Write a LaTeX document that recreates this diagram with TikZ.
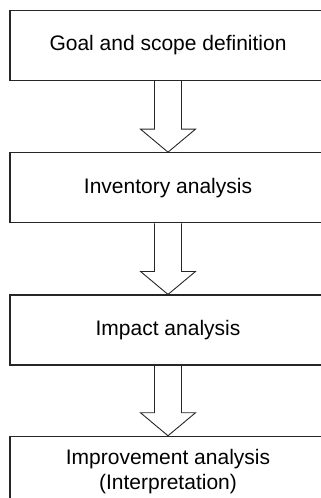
\documentclass[tikz,border=0pt]{standalone}
\usepackage{fontspec}
\setmainfont{Liberation Sans}
\usetikzlibrary{positioning}

\tikzset{
  stage/.style={draw=black!85, line width=1.3pt, minimum width=316pt,
    minimum height=70pt, inner sep=0pt, align=center,
    font=\fontsize{21}{25}\selectfont},
  hollow/.style={draw=black!85, line width=0.9pt, line join=miter}
}

% open block arrow from the bottom of one stage to the top of the next
\newcommand{\hollowarrow}[2]{%
  \draw[hollow] ([xshift=-13.5pt]#1.south)
    -- ([xshift=-13.5pt,yshift=23pt]#2.north)
    -- ([xshift=-27.5pt,yshift=23pt]#2.north)
    -- (#2.north)
    -- ([xshift=27.5pt,yshift=23pt]#2.north)
    -- ([xshift=13.5pt,yshift=23pt]#2.north)
    -- ([xshift=13.5pt]#1.south);}

\begin{document}
\begin{tikzpicture}[x=1pt,y=-1pt]
  \useasboundingbox (0,0) rectangle (321,498);
  \clip (0,0) rectangle (321,498);

  \node[stage] (goal) at (168,45.5) {Goal and scope definition};
  \node[stage, below=71pt of goal] (inventory) {Inventory analysis};
  \node[stage, below=71pt of inventory] (impact) {Impact analysis};
  \node[stage, below=70pt of impact] (improve)
    {Improvement analysis\\(Interpretation)};

  \hollowarrow{goal}{inventory}
  \hollowarrow{inventory}{impact}
  \hollowarrow{impact}{improve}
\end{tikzpicture}
\end{document}
